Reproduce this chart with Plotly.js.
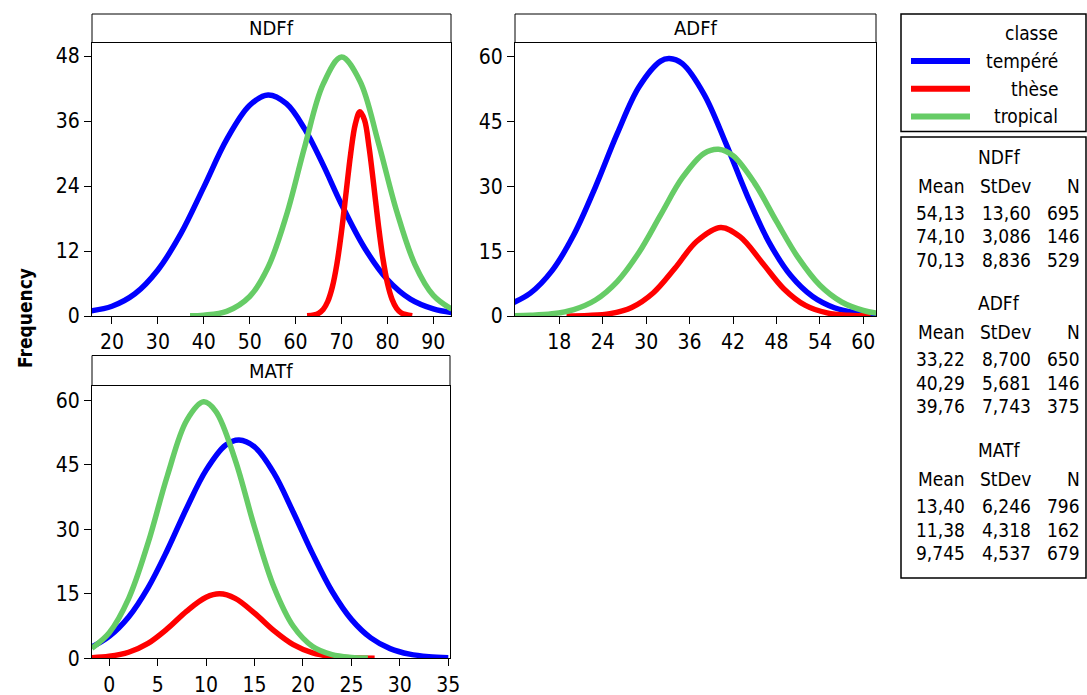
<!DOCTYPE html>
<html>
<head>
<meta charset="utf-8">
<script src="https://cdn.plot.ly/plotly-3.0.1.min.js"></script>
<style>html,body{margin:0;padding:0;background:#fff;}#chart{width:1087px;height:695px;}</style>
</head>
<body>
<div id="chart"></div>
<script>
// ---- data ----
const classes = ['tempéré', 'thèse', 'tropical'];
const legendTitle = 'classe';
const panels = ['NDFf', 'ADFf', 'MATf'];
const yTitle = 'Frequency';

// NDFf
const ndfTempX = [15, 20, 25, 30, 35, 40, 45, 50, 54, 58, 62, 66, 70, 75, 80, 85, 90, 95];
const ndfTempY = [0.9, 1.8, 4.1, 8.5, 15.2, 23.8, 32.6, 38.9, 40.8, 39.2, 34.5, 27.9, 20.6, 12.6, 6.7, 3.1, 1.3, 0.5];
const ndfTheseX = [62.5, 64, 65, 66, 67, 68, 69, 70, 71, 72, 73, 74, 75, 76, 77, 78, 79, 80, 81, 82, 83, 85.4];
const ndfTheseY = [0.03, 0.18, 0.49, 1.21, 2.68, 5.35, 9.63, 15.6, 22.8, 30.0, 35.4, 37.7, 36.2, 31.2, 24.3, 17.0, 10.7, 6.07, 3.1, 1.42, 0.59, 0.05];
const ndfTropX = [37, 40, 45, 50, 54, 58, 62, 66, 70, 74, 78, 82, 86, 90, 94];
const ndfTropY = [0.05, 0.15, 0.85, 3.6, 9.0, 18.6, 31.3, 42.8, 47.8, 43.4, 32.1, 19.4, 9.5, 3.8, 1.25];

// ADFf
const adfTempX = [11, 14, 17, 20, 23, 26, 29, 32, 33.2, 35, 38, 41, 44, 47, 50, 53, 56, 59, 62];
const adfTempY = [2.6, 5.3, 10.5, 18.8, 29.9, 42.2, 53.0, 59.0, 59.6, 58.4, 51.3, 40.0, 27.7, 17.0, 9.3, 4.5, 1.9, 0.74, 0.25];
const adfTheseX = [19, 22, 25, 28, 31, 34, 37, 40.3, 43, 46, 49, 52, 55, 58, 61];
const adfTheseY = [0.02, 0.12, 0.55, 1.98, 5.39, 11.1, 17.3, 20.5, 18.3, 12.4, 6.33, 2.45, 0.72, 0.16, 0.03];
const adfTropX = [11, 14, 17, 20, 23, 26, 29, 32, 35, 38, 40, 42, 45, 48, 51, 54, 57, 60, 62];
const adfTropY = [0.04, 0.15, 0.51, 1.49, 3.71, 7.97, 14.7, 23.4, 32.0, 37.65, 38.6, 37.1, 30.7, 21.9, 13.5, 7.1, 3.24, 1.27, 0.62];

// MATf
const matTempX = [-1.8, 0, 2, 4, 6, 8, 10, 12, 13.4, 15, 17, 19, 21, 23, 25, 27, 29, 31, 33, 35];
const matTempY = [2.63, 5.09, 9.61, 16.4, 25.2, 35.0, 43.8, 49.6, 50.8, 49.2, 43.1, 34.0, 24.3, 15.6, 9.06, 4.75, 2.25, 0.96, 0.37, 0.13];
const matTheseX = [-1.8, 0, 2, 4, 6, 8, 10, 11.4, 13, 15, 17, 19, 21, 23, 25, 27.4];
const matTheseY = [0.14, 0.46, 1.41, 3.47, 6.89, 11.0, 14.2, 15.0, 13.95, 10.5, 6.42, 3.16, 1.25, 0.40, 0.10, 0.02];
const matTropX = [-1.8, 0, 2, 4, 6, 8, 9.75, 11, 13, 15, 17, 19, 21, 23, 25, 26.7];
const matTropY = [2.35, 5.95, 13.9, 26.8, 42.5, 55.4, 59.7, 57.5, 46.2, 30.5, 16.6, 7.45, 2.75, 0.84, 0.21, 0.06];

// tick values
const ndfXTicks = [20, 30, 40, 50, 60, 70, 80, 90];
const ndfYTicks = [0, 12, 24, 36, 48];
const adfXTicks = [18, 24, 30, 36, 42, 48, 54, 60];
const adfYTicks = [0, 15, 30, 45, 60];
const matXTicks = [0, 5, 10, 15, 20, 25, 30, 35];
const matYTicks = [0, 15, 30, 45, 60];

// summary table
const statHeader = ['Mean', 'StDev', 'N'];
const ndfStats = [['54,13', '13,60', '695'], ['74,10', '3,086', '146'], ['70,13', '8,836', '529']];
const adfStats = [['33,22', '8,700', '650'], ['40,29', '5,681', '146'], ['39,76', '7,743', '375']];
const matStats = [['13,40', '6,246', '796'], ['11,38', '4,318', '162'], ['9,745', '4,537', '679']];

// ---- styling ----
const W = 1087, H = 695;
const colors = ['#0000ff', '#ff0000', '#66cc66'];
const FONT = "'DejaVu Sans Condensed', 'Noto Sans', sans-serif";
const fx = p => p / W;
const fy = p => 1 - p / H;

const series = [
  [[ndfTempX, ndfTempY], [ndfTheseX, ndfTheseY], [ndfTropX, ndfTropY]],
  [[adfTempX, adfTempY], [adfTheseX, adfTheseY], [adfTropX, adfTropY]],
  [[matTempX, matTempY], [matTheseX, matTheseY], [matTropX, matTropY]]
];
const axIds = [['x', 'y'], ['x2', 'y2'], ['x3', 'y3']];

const traces = [];
series.forEach((grp, p) => {
  grp.forEach((s, c) => {
    traces.push({
      type: 'scatter', mode: 'lines', x: s[0], y: s[1],
      xaxis: axIds[p][0], yaxis: axIds[p][1], name: classes[c],
      line: {color: colors[c], width: 5.5, shape: 'spline', smoothing: 1},
      showlegend: false, hoverinfo: 'skip'
    });
  });
});

function axis(extra) {
  return Object.assign({
    showline: true, linecolor: 'black', linewidth: 1, mirror: true,
    ticks: 'outside', ticklen: 7, tickcolor: 'black', tickwidth: 1,
    showgrid: false, zeroline: false, fixedrange: true,
    tickfont: {family: FONT, size: 21, color: 'black'}, tickmode: 'array'
  }, extra);
}

// panel boxes in pixels [left, right, top(plot), bottom(plot), headerTop]
const box = [
  [92, 451, 42.5, 316, 14],
  [515, 876, 42.5, 316, 14],
  [92, 450, 385.5, 658.3, 355.5]
];

const layout = {
  width: W, height: H, margin: {l: 0, r: 0, t: 0, b: 0},
  paper_bgcolor: '#fff', plot_bgcolor: '#fff', showlegend: false,
  font: {family: FONT, color: 'black'},
  xaxis: axis({domain: [fx(box[0][0]), fx(box[0][1])], range: [15.65, 93.85], tickvals: ndfXTicks, anchor: 'y'}),
  yaxis: axis({domain: [fy(box[0][3]), fy(box[0][2])], range: [0, 50.5], tickvals: ndfYTicks, anchor: 'x'}),
  xaxis2: axis({domain: [fx(box[1][0]), fx(box[1][1])], range: [11.88, 61.75], tickvals: adfXTicks, anchor: 'y2'}),
  yaxis2: axis({domain: [fy(box[1][3]), fy(box[1][2])], range: [0, 63.3], tickvals: adfYTicks, anchor: 'x2'}),
  xaxis3: axis({domain: [fx(box[2][0]), fx(box[2][1])], range: [-1.78, 35.18], tickvals: matXTicks, anchor: 'y3'}),
  yaxis3: axis({domain: [fy(box[2][3]), fy(box[2][2])], range: [0, 63.5], tickvals: matYTicks, anchor: 'x3'}),
  shapes: [], annotations: []
};

// panel header strips
box.forEach((b, i) => {
  layout.shapes.push({type: 'rect', xref: 'paper', yref: 'paper',
    x0: fx(b[0]), x1: fx(b[1]), y0: fy(b[2]), y1: fy(b[4]),
    line: {color: 'black', width: 1}, fillcolor: '#fff'});
  layout.annotations.push({xref: 'paper', yref: 'paper', x: fx((b[0] + b[1]) / 2), y: fy((b[2] + b[4]) / 2),
    xanchor: 'center', yanchor: 'middle', showarrow: false, text: panels[i],
    font: {family: FONT, size: 20, color: 'black'}});
});

// y axis title
layout.annotations.push({xref: 'paper', yref: 'paper', x: fx(25), y: fy(318), xanchor: 'center', yanchor: 'middle',
  showarrow: false, textangle: -90, text: '<b>' + yTitle + '</b>', font: {family: FONT, size: 19, color: 'black'}});

// legend box
layout.shapes.push({type: 'rect', xref: 'paper', yref: 'paper', x0: fx(901), x1: fx(1086), y0: fy(131.5), y1: fy(14),
  line: {color: 'black', width: 1.5}, fillcolor: 'rgba(0,0,0,0)'});
layout.annotations.push({xref: 'paper', yref: 'paper', x: fx(1060), y: fy(33), xanchor: 'right', yanchor: 'middle',
  showarrow: false, text: legendTitle, font: {family: FONT, size: 19, color: 'black'}});
classes.forEach((c, i) => {
  const yy = 61 + i * 27.7;
  layout.shapes.push({type: 'line', xref: 'paper', yref: 'paper', x0: fx(911), x1: fx(970), y0: fy(yy), y1: fy(yy),
    line: {color: colors[i], width: 6}});
  layout.annotations.push({xref: 'paper', yref: 'paper', x: fx(1060), y: fy(yy), xanchor: 'right', yanchor: 'middle',
    showarrow: false, text: c, font: {family: FONT, size: 19, color: 'black'}});
});

// stats table
layout.shapes.push({type: 'rect', xref: 'paper', yref: 'paper', x0: fx(901), x1: fx(1086), y0: fy(578), y1: fy(137),
  line: {color: 'black', width: 1.5}, fillcolor: 'rgba(0,0,0,0)'});
const colRight = [967, 1033, 1082];
const blockTop = [157, 303, 450];
const statBlocks = [ndfStats, adfStats, matStats];
statBlocks.forEach((rows, b) => {
  const T = blockTop[b];
  const put = (txt, x, y, anchor) => layout.annotations.push({xref: 'paper', yref: 'paper', x: fx(x), y: fy(y),
    xanchor: anchor, yanchor: 'middle', showarrow: false, text: txt, font: {family: FONT, size: 19, color: 'black'}});
  put(panels[b], 999, T, 'center');
  statHeader.forEach((h, k) => put(h, colRight[k], T + 29, 'right'));
  rows.forEach((r, j) => r.forEach((v, k) => put(v, colRight[k], T + 56 + j * 23.5, 'right')));
});

Plotly.newPlot('chart', traces, layout, {displayModeBar: false, staticPlot: true});
</script>
</body>
</html>
